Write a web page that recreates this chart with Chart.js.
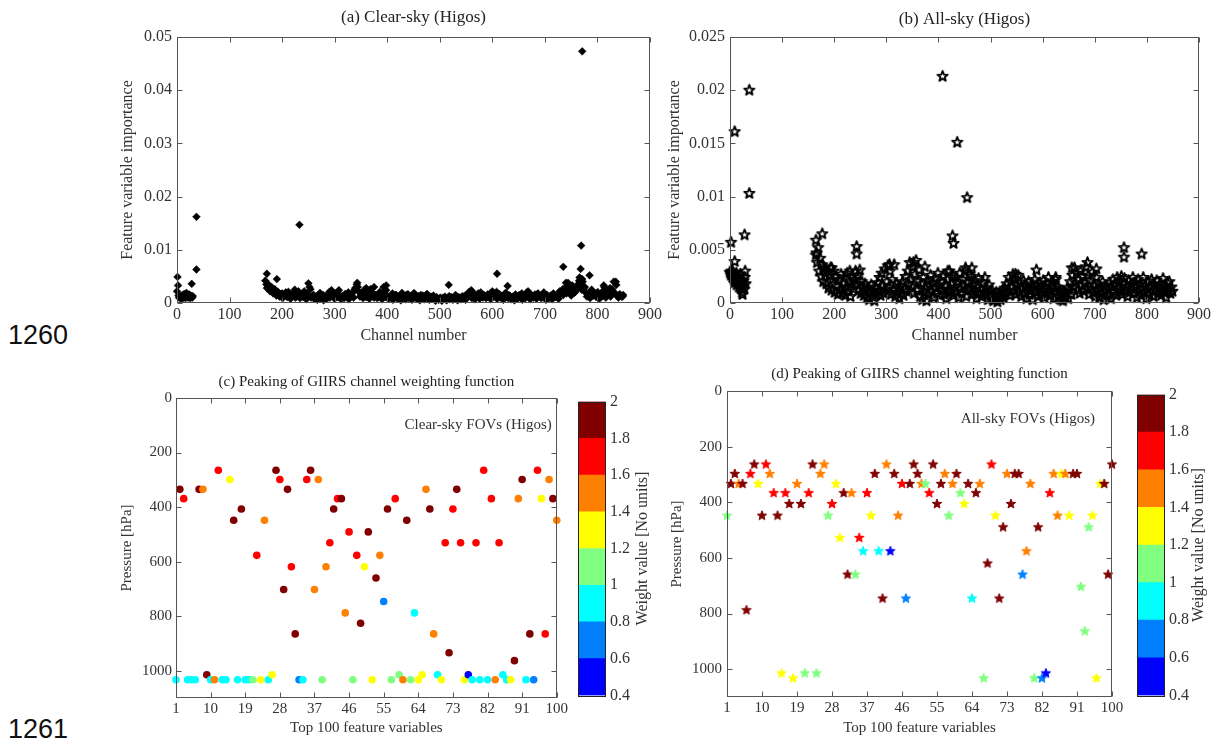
<!DOCTYPE html>
<html>
<head>
<meta charset="utf-8">
<script src="https://cdn.jsdelivr.net/npm/chart.js@4.4.0/dist/chart.umd.min.js"></script>
<style>
  body { margin: 0; background: #fff; width: 1216px; height: 740px; position: relative; overflow: hidden; }
  .box { position: absolute; }
  .fig { position: absolute; font-family: "Liberation Sans", Arial, sans-serif; font-size: 27px; color: #111; }
</style>
</head>
<body>
<div class="fig" style="left:8px;top:320px">1260</div>
<div class="fig" style="left:8px;top:714px">1261</div>
<div class="box" style="left:100px;top:0px"><canvas id="chartA" width="580" height="345"></canvas></div>
<div class="box" style="left:650px;top:0px"><canvas id="chartB" width="566" height="345"></canvas></div>
<div class="box" style="left:100px;top:360px"><canvas id="chartC" width="470" height="380"></canvas></div>
<div class="box" style="left:578px;top:388px"><canvas id="barC" width="100" height="321"></canvas></div>
<div class="box" style="left:650px;top:360px"><canvas id="chartD" width="480" height="380"></canvas></div>
<div class="box" style="left:1137px;top:381px"><canvas id="barD" width="79" height="328"></canvas></div>
<script>
// ---- (a) clear-sky importance, values in units of 1e-4 ----
const channelTicks = [0, 100, 200, 300, 400, 500, 600, 700, 800, 900];
const clearTicks = [0, 0.01, 0.02, 0.03, 0.04, 0.05];
const clearTickLabels = ['0', '0.01', '0.02', '0.03', '0.04', '0.05'];
// channels 0..30, one per channel
const clearEarly = [22, 49, 33, 14, 10, 12, 9, 11, 14, 8, 12, 15, 10, 13, 17, 11, 9, 14, 19, 12, 15, 10, 13, 16, 11, 9, 14, 12, 36, 10, 13];
// channels 168..849, every 3rd channel
const clearDense = [
  42, 28, 35, 22, 30, 18, 26, 14, 21, 12,
  17, 9, 14, 20, 11, 16, 8, 13, 19, 10,
  12, 22, 9, 15, 11, 18, 7, 13, 30, 10,
  14, 8, 12, 6, 16, 9, 11, 5, 13, 8,
  15, 10, 24, 12, 8, 17, 11, 14, 7, 12,
  9, 15, 11, 7, 13, 18, 10, 28, 35, 22,
  12, 16, 9, 25, 11, 14, 8, 21, 13, 10,
  15, 9, 12, 18, 7, 30, 11, 14, 8, 10,
  13, 6, 11, 15, 8, 12, 5, 14, 10, 7,
  16, 9, 12, 6, 18, 11, 8, 13, 5, 10,
  14, 7, 15, 9, 6, 12, 8, 11, 4, 9,
  6, 10, 4, 8, 12, 5, 9, 7, 11, 6,
  8, 12, 5, 10, 7, 13, 9, 6, 11, 20,
  22, 9, 14, 7, 12, 18, 8, 15, 10, 13,
  9, 16, 11, 7, 22, 12, 14, 8, 17, 10,
  13, 6, 18, 11, 9, 14, 7, 12, 5, 10,
  8, 15, 11, 6, 13, 9, 20, 12, 7, 14,
  10, 16, 8, 18, 12, 9, 15, 11, 6, 13,
  9, 14, 7, 16, 11, 13, 8, 17, 20, 15,
  25, 18, 38, 22, 14, 28, 19, 24, 30, 42,
  35, 45, 28, 20, 12, 16, 9, 25, 14, 18,
  11, 20, 8, 15, 13, 30, 10, 22, 16, 12,
  26, 40, 18, 14, 10, 16, 12, 15
];
// channels 170..848, every 6th channel (upper part of the band)
const clearUpper = [
  35, 30, 26, 22, 19, 18,
  16, 21, 14, 25, 18, 13, 22, 17, 26, 15,
  12, 19, 15, 10, 21, 14, 18, 24, 13, 17,
  20, 15, 25, 30, 19, 22, 14, 26, 17, 13,
  21, 16, 24, 12, 18, 15, 11, 19, 14, 16,
  13, 18, 10, 15, 12, 17, 9, 14, 11, 8,
  10, 7, 13, 9, 15, 11, 8, 14, 12, 24,
  17, 13, 20, 15, 11, 18, 14, 21, 16, 12,
  19, 14, 10, 16, 13, 18, 11, 22, 15, 12,
  17, 13, 20, 15, 12, 18, 14, 22, 26, 30,
  27, 33, 21, 36, 25, 30, 18, 22, 16, 20,
  14, 24, 18, 28, 20, 34, 16, 12
];
const clearOutlierCh = [37, 37, 171, 190, 233, 250, 343, 360, 375, 398, 517, 609, 629, 735, 740, 766, 768, 769, 771, 772, 785, 812, 835];
const clearOutlierVal = [162, 63, 55, 45, 147, 37, 38, 28, 30, 33, 34, 55, 32, 68, 38, 48, 64, 108, 473, 40, 52, 33, 40];

// ---- (b) all-sky importance, values in units of 1e-4 ----
const allTicks = [0, 0.005, 0.01, 0.015, 0.02, 0.025];
const allTickLabels = ['0', '0.005', '0.01', '0.015', '0.02', '0.025'];
// channels 0..30
const allEarly = [29, 28, 26, 30, 27, 24, 29, 22, 25, 19, 26, 21, 28, 17, 23, 20, 25, 15, 22, 18, 27, 14, 19, 10, 8, 16, 21, 13, 24, 30, 18];
// channels 165..849, every 2nd channel
const allDense = [
  45, 38, 52, 30, 42, 25, 36, 20, 32, 28,
  18, 30, 14, 26, 33, 12, 22, 30, 10, 25,
  16, 8, 21, 13, 27, 9, 18, 24, 7, 15,
  28, 11, 20, 6, 17, 25, 13, 22, 30, 18,
  26, 12, 31, 9, 20, 15, 7, 18, 11, 5,
  14, 3, 10, 17, 6, 12, 2, 15, 8, 19,
  11, 24, 7, 28, 16, 9, 32, 13, 20, 35,
  15, 30, 8, 22, 12, 36, 6, 18, 10, 14,
  4, 16, 9, 20, 7, 13, 25, 11, 30, 18,
  38, 22, 15, 34, 9, 27, 40, 12, 20, 31,
  6, 18, 3, 24, 10, 14, 2, 21, 8, 16,
  26, 11, 19, 5, 23, 14, 9, 28, 17, 7,
  20, 12, 25, 8, 16, 4, 22, 13, 30, 10,
  18, 26, 7, 15, 24, 11, 20, 5, 28, 13,
  9, 22, 16, 30, 6, 19, 12, 27, 14, 25,
  8, 17, 21, 11, 4, 15, 23, 9, 13, 6,
  19, 10, 24, 7, 14, 3, 17, 11, 6, 12,
  2, 8, 4, 10, 1, 6, 9, 3, 7, 12,
  5, 14, 9, 18, 11, 24, 7, 20, 15, 27,
  12, 22, 8, 17, 26, 10, 19, 6, 14, 21,
  9, 16, 4, 13, 20, 8, 11, 18, 3, 15,
  22, 10, 17, 6, 14, 19, 8, 12, 21, 5,
  13, 18, 9, 24, 11, 7, 16, 20, 4, 14,
  22, 10, 15, 6, 12, 3, 8, 2, 11, 5,
  9, 14, 4, 12, 20, 8, 26, 15, 33, 19,
  28, 12, 22, 9, 30, 17, 25, 11, 19, 34,
  14, 26, 8, 21, 13, 29, 10, 17, 6, 24,
  12, 18, 5, 14, 9, 20, 3, 11, 16, 7,
  13, 8, 19, 4, 15, 22, 10, 17, 7, 24,
  14, 20, 11, 25, 8, 18, 23, 12, 16, 6,
  21, 10, 17, 13, 24, 9, 15, 19, 5, 22,
  11, 18, 7, 14, 24, 10, 16, 4, 13, 20,
  8, 15, 22, 11, 6, 17, 12, 21, 9, 14,
  18, 7, 13, 23, 10, 16, 5, 19, 12, 20,
  9, 15, 11
];
const allOutlierCh = [2, 9, 9, 28, 37, 37, 165, 166, 177, 180, 195, 230, 243, 243, 306, 352, 374, 408, 418, 427, 429, 436, 452, 455, 464, 548, 588, 625, 656, 686, 703, 756, 756, 790];
const allOutlierVal = [57, 161, 39, 64, 200, 103, 59, 47, 65, 34, 33, 30, 53, 46, 36, 38, 34, 213, 30, 63, 56, 151, 33, 99, 33, 27, 31, 24, 33, 38, 32, 52, 43, 46];

// ---- (c), (d) peaking pressure of top 100 features ----
const featureTicks = [1, 10, 19, 28, 37, 46, 55, 64, 73, 82, 91, 100];
const pressureTicks = [0, 200, 400, 600, 800, 1000];
const clearPressure = [
  1033, 335, 369, 1033, 1033, 1033, 335, 335, 1015, 1033,
  1033, 265, 1033, 1033, 299, 448, 1033, 407, 1033, 1033,
  1033, 577, 1033, 448, 1033, 1015, 265, 299, 702, 335,
  619, 865, 1033, 1033, 299, 265, 702, 299, 1033, 619,
  531, 407, 369, 369, 788, 491, 1033, 577, 826, 619,
  491, 1033, 660, 577, 746, 407, 1033, 369, 1015, 1033,
  448, 1033, 788, 1033, 1015, 335, 407, 865, 1015, 1033,
  531, 934, 407, 335, 531, 1033, 1015, 1033, 531, 1033,
  265, 1033, 369, 1033, 531, 1015, 1033, 1033, 963, 369,
  299, 1033, 865, 1033, 265, 369, 865, 299, 369, 448
];
const clearWeight = [
  0.9, 1.9, 1.7, 0.9, 0.9, 0.9, 1.9, 1.5, 1.9, 0.9,
  1.5, 1.7, 0.9, 0.9, 1.3, 1.9, 0.9, 1.9, 0.9, 0.9,
  1.1, 1.7, 1.3, 1.5, 0.9, 1.3, 1.9, 1.7, 1.9, 1.9,
  1.7, 1.9, 0.7, 0.9, 1.7, 1.9, 1.5, 1.5, 1.1, 1.5,
  1.7, 1.9, 1.7, 1.9, 1.5, 1.7, 1.1, 1.7, 1.9, 1.3,
  1.9, 1.3, 1.9, 1.5, 0.7, 1.9, 1.1, 1.7, 1.1, 1.5,
  1.9, 1.1, 0.9, 1.3, 1.3, 1.5, 1.9, 1.5, 0.9, 1.3,
  1.7, 1.9, 1.7, 1.9, 1.7, 1.3, 0.5, 0.9, 1.7, 0.9,
  1.7, 0.9, 1.7, 1.5, 1.7, 0.9, 0.9, 1.3, 1.9, 1.5,
  1.9, 0.9, 1.9, 0.7, 1.7, 1.3, 1.7, 1.5, 1.9, 1.5
];
const allPressure = [
  448, 334, 298, 334, 334, 788, 298, 264, 334, 448,
  264, 298, 367, 448, 1015, 367, 406, 1033, 334, 406,
  1015, 367, 264, 1015, 298, 264, 448, 406, 334, 528,
  367, 660, 367, 660, 528, 576, 367, 448, 298, 576,
  746, 264, 576, 298, 448, 334, 746, 334, 264, 298,
  334, 334, 367, 264, 406, 334, 298, 448, 334, 298,
  367, 406, 334, 746, 367, 334, 1033, 620, 264, 448,
  746, 490, 298, 406, 298, 298, 660, 576, 334, 1033,
  490, 1033, 1015, 367, 298, 448, 298, 298, 448, 298,
  298, 704, 864, 490, 448, 1033, 334, 334, 660, 264
];
const allWeight = [
  1.1, 1.9, 1.9, 1.5, 1.9, 1.9, 1.7, 1.9, 1.3, 1.9,
  1.7, 1.5, 1.7, 1.9, 1.3, 1.7, 1.9, 1.3, 1.5, 1.9,
  1.1, 1.7, 1.9, 1.1, 1.5, 1.5, 1.1, 1.7, 1.3, 1.3,
  1.9, 1.9, 1.5, 1.1, 1.7, 0.9, 1.7, 1.3, 1.9, 0.9,
  1.9, 1.5, 0.5, 1.9, 1.5, 1.7, 0.7, 1.9, 1.9, 1.9,
  1.5, 1.1, 1.7, 1.9, 1.9, 1.9, 1.5, 1.1, 1.5, 1.9,
  1.1, 1.3, 1.9, 0.9, 1.9, 1.5, 1.1, 1.9, 1.7, 1.3,
  1.9, 1.9, 1.5, 1.9, 1.9, 1.9, 0.7, 1.5, 1.5, 1.1,
  1.9, 0.7, 0.5, 1.7, 1.5, 1.5, 1.3, 1.5, 1.3, 1.9,
  1.9, 1.1, 1.1, 1.1, 1.3, 1.3, 1.3, 1.9, 1.9, 1.9
];

// ---- colour bar ----
const weightBins = [0.4, 0.6, 0.8, 1.0, 1.2, 1.4, 1.6, 1.8, 2.0];
const weightTickLabels = ['0.4', '0.6', '0.8', '1', '1.2', '1.4', '1.6', '1.8', '2'];
const jetColors = ['#0000ff', '#0080ff', '#00ffff', '#80ff80', '#ffff00', '#ff8000', '#ff0000', '#800000'];

const SERIF = '"Liberation Serif", "Times New Roman", serif';
Chart.defaults.font.family = SERIF;
Chart.defaults.color = '#333';
Chart.defaults.animation = false;
Chart.defaults.devicePixelRatio = 1;

function weightColor(w) {
  for (let k = 0; k < jetColors.length; k++) {
    if (w < weightBins[k + 1]) return jetColors[k];
  }
  return jetColors[jetColors.length - 1];
}

function starCanvas(fill, stroke, R, lw) {
  const c = document.createElement('canvas');
  const s = Math.ceil(2 * R + 4);
  c.width = c.height = s;
  const g = c.getContext('2d');
  g.beginPath();
  for (let k = 0; k < 10; k++) {
    const r = k % 2 ? R * 0.42 : R;
    const a = -Math.PI / 2 + k * Math.PI / 5;
    const px = s / 2 + r * Math.cos(a), py = s / 2 + r * Math.sin(a);
    if (k) g.lineTo(px, py); else g.moveTo(px, py);
  }
  g.closePath();
  if (fill) { g.fillStyle = fill; g.fill(); }
  if (stroke) { g.strokeStyle = stroke; g.lineWidth = lw; g.lineJoin = 'round'; g.stroke(); }
  return c;
}

// box, inward ticks on all four sides, panel title over the plot area, optional note
const frameTicks = {
  id: 'frameTicks',
  afterDraw(chart, args, opts) {
    const { ctx, chartArea: a, scales: { x, y } } = chart;
    const L = 5;
    ctx.save();
    ctx.strokeStyle = '#555';
    ctx.lineWidth = 1;
    const l = Math.round(a.left) + 0.5, r = Math.round(a.right) - 0.5;
    const t = Math.round(a.top) + 0.5, b = Math.round(a.bottom) - 0.5;
    ctx.strokeRect(l, t, r - l, b - t);
    ctx.beginPath();
    x.ticks.forEach(tk => {
      const px = Math.round(x.getPixelForValue(tk.value)) + 0.5;
      ctx.moveTo(px, b); ctx.lineTo(px, b - L);
      ctx.moveTo(px, t); ctx.lineTo(px, t + L);
    });
    y.ticks.forEach(tk => {
      const py = Math.round(y.getPixelForValue(tk.value)) + 0.5;
      ctx.moveTo(l, py); ctx.lineTo(l + L, py);
      ctx.moveTo(r, py); ctx.lineTo(r - L, py);
    });
    ctx.stroke();
    ctx.textBaseline = 'middle';
    ctx.fillStyle = '#222';
    ctx.textAlign = 'center';
    ctx.font = opts.titleFont + 'px ' + SERIF;
    ctx.fillText(opts.title, (a.left + a.right) / 2, opts.titleY);
    if (opts.note) {
      ctx.font = '15px ' + SERIF;
      ctx.fillStyle = '#333';
      ctx.textAlign = 'right';
      ctx.fillText(opts.note, a.right - opts.dx, a.top + opts.dy);
    }
    ctx.restore();
  }
};

function xyScales(o) {
  return {
    x: {
      type: 'linear', min: o.xMin, max: o.xMax,
      grid: { display: false, drawTicks: false }, border: { display: false },
      afterBuildTicks: s => { s.ticks = o.xTicks.map(v => ({ value: v })); },
      afterFit: s => { s.height = o.xH; },
      ticks: { font: { size: o.tickSize }, padding: o.xPad, maxRotation: 0, autoSkip: false, callback: v => String(v) },
      title: { display: true, text: o.xTitle, font: { size: o.titleSize }, padding: { top: 0, bottom: o.xTitlePad } }
    },
    y: {
      type: 'linear', min: o.yMin, max: o.yMax, reverse: !!o.reverse,
      grid: { display: false, drawTicks: false }, border: { display: false },
      afterBuildTicks: s => { s.ticks = o.yTicks.map(v => ({ value: v })); },
      afterFit: s => { s.width = o.yW; },
      ticks: { font: { size: o.tickSize }, padding: o.yPad, autoSkip: false, callback: (v, i) => o.yLabels[i] },
      title: { display: true, text: o.yTitle, font: { size: o.titleSize }, padding: { top: o.yTitlePad, bottom: 0 } }
    }
  };
}

function baseOptions(o) {
  return {
    responsive: false,
    events: [],
    layout: { padding: { left: 0, top: o.padT, bottom: 0, right: o.padR } },
    plugins: {
      legend: { display: false },
      tooltip: { enabled: false },
      frameTicks: { title: o.title, titleFont: o.titleFont, titleY: o.titleY, note: o.note, dx: o.noteDx, dy: o.noteDy }
    },
    scales: xyScales(o)
  };
}

// ----- (a) -----
const aPoints = [];
clearEarly.forEach((v, i) => aPoints.push({ x: i, y: v / 1e4 }));
clearDense.forEach((v, i) => aPoints.push({ x: 168 + 3 * i, y: v / 1e4 }));
clearUpper.forEach((v, i) => aPoints.push({ x: 170 + 6 * i, y: v / 1e4 }));
clearOutlierCh.forEach((c, i) => aPoints.push({ x: c, y: clearOutlierVal[i] / 1e4 }));
new Chart(document.getElementById('chartA'), {
  type: 'scatter',
  data: { datasets: [{ data: aPoints, pointStyle: 'rectRot', pointRadius: 3.9, backgroundColor: '#000', borderColor: '#000', borderWidth: 0.5, clip: false }] },
  options: baseOptions({
    title: '(a) Clear-sky (Higos)', titleFont: 17, titleY: 18, padT: 37, padR: 30,
    xMin: 0, xMax: 900, xTicks: channelTicks, xH: 42, xPad: 2, xTitle: 'Channel number', xTitlePad: 0,
    yMin: 0, yMax: 0.05, yTicks: clearTicks, yLabels: clearTickLabels, yW: 77, yPad: 5,
    yTitle: 'Feature variable importance', yTitlePad: 18, titleSize: 16, tickSize: 16
  }),
  plugins: [frameTicks]
});

// ----- (b) -----
const openStar = starCanvas(null, '#000', 5.4, 1.9);
const bPoints = [];
allEarly.forEach((v, i) => bPoints.push({ x: i, y: v / 1e4 }));
allDense.forEach((v, i) => bPoints.push({ x: 165 + 2 * i, y: v / 1e4 }));
allOutlierCh.forEach((c, i) => bPoints.push({ x: c, y: allOutlierVal[i] / 1e4 }));
new Chart(document.getElementById('chartB'), {
  type: 'scatter',
  data: { datasets: [{ data: bPoints, pointStyle: openStar, pointRadius: 5, clip: false }] },
  options: baseOptions({
    title: '(b) All-sky (Higos)', titleFont: 17, titleY: 20, padT: 37, padR: 17,
    xMin: 0, xMax: 900, xTicks: channelTicks, xH: 42, xPad: 2, xTitle: 'Channel number', xTitlePad: 0,
    yMin: 0, yMax: 0.025, yTicks: allTicks, yLabels: allTickLabels, yW: 80, yPad: 5,
    yTitle: 'Feature variable importance', yTitlePad: 15, titleSize: 16, tickSize: 16
  }),
  plugins: [frameTicks]
});

// ----- (c) -----
const pressureLabels = pressureTicks.map(String);
new Chart(document.getElementById('chartC'), {
  type: 'scatter',
  data: { datasets: [{
    data: clearPressure.map((p, i) => ({ x: i + 1, y: p })),
    pointStyle: 'circle', pointRadius: 3.8, borderWidth: 0,
    backgroundColor: clearWeight.map(weightColor), clip: false
  }] },
  options: baseOptions({
    title: '(c) Peaking of GIIRS channel weighting function', titleFont: 15, titleY: 22, padT: 38, padR: 13,
    note: 'Clear-sky FOVs (Higos)', noteDx: 5, noteDy: 27,
    xMin: 1, xMax: 100, xTicks: featureTicks, xH: 42, xPad: 2, xTitle: 'Top 100 feature variables', xTitlePad: 3,
    yMin: 0, yMax: 1100, reverse: true, yTicks: pressureTicks, yLabels: pressureLabels, yW: 76, yPad: 4,
    yTitle: 'Pressure [hPa]', yTitlePad: 18, titleSize: 15, tickSize: 15
  }),
  plugins: [frameTicks]
});

// ----- (d) -----
const filledStars = {};
jetColors.forEach(c => { filledStars[c] = starCanvas(c, c, 5, 1); });
new Chart(document.getElementById('chartD'), {
  type: 'scatter',
  data: { datasets: [{
    data: allPressure.map((p, i) => ({ x: i + 1, y: p })),
    pointStyle: allWeight.map(w => filledStars[weightColor(w)]), pointRadius: 5, clip: false
  }] },
  options: baseOptions({
    title: '(d) Peaking of GIIRS channel weighting function', titleFont: 15, titleY: 14, padT: 31, padR: 18,
    note: 'All-sky FOVs (Higos)', noteDx: 17, noteDy: 28,
    xMin: 1, xMax: 100, xTicks: featureTicks, xH: 43, xPad: 2, xTitle: 'Top 100 feature variables', xTitlePad: 3,
    yMin: 0, yMax: 1100, reverse: true, yTicks: pressureTicks, yLabels: pressureLabels, yW: 77, yPad: 5,
    yTitle: 'Pressure [hPa]', yTitlePad: 18, titleSize: 15, tickSize: 15
  }),
  plugins: [frameTicks]
});

// ----- colour bars -----
const cbarDeco = {
  id: 'cbarDeco',
  afterDraw(chart, args, opts) {
    const { ctx, chartArea: a } = chart;
    ctx.save();
    ctx.strokeStyle = '#222';
    ctx.lineWidth = 1;
    ctx.strokeRect(Math.round(a.left) + 0.5, Math.round(a.top) + 0.5, Math.round(a.right - a.left) - 1, Math.round(a.bottom - a.top));
    ctx.translate(opts.x, (a.top + a.bottom) / 2);
    ctx.rotate(-Math.PI / 2);
    ctx.font = '16px ' + SERIF;
    ctx.fillStyle = '#333';
    ctx.textAlign = 'center';
    ctx.textBaseline = 'middle';
    ctx.fillText('Weight value [No units]', 0, 0);
    ctx.restore();
  }
};

function colorBar(id, axisW, titleX) {
  new Chart(document.getElementById(id), {
    type: 'bar',
    data: {
      labels: [''],
      datasets: jetColors.map((c, k) => ({
        data: [[weightBins[k], weightBins[k + 1]]],
        backgroundColor: c, borderWidth: 0, barPercentage: 1, categoryPercentage: 1, grouped: false
      }))
    },
    options: {
      responsive: false,
      events: [],
      layout: { padding: { top: 10, bottom: 10, left: 0, right: 0 } },
      plugins: { legend: { display: false }, tooltip: { enabled: false }, cbarDeco: { x: titleX } },
      scales: {
        x: { display: false },
        y: {
          position: 'right', min: 0.4, max: 2,
          grid: { display: false, drawTicks: false }, border: { display: false },
          afterBuildTicks: s => { s.ticks = weightBins.map(v => ({ value: v })); },
          afterFit: s => { s.width = axisW; },
          ticks: { font: { size: 16 }, padding: 4, callback: (v, i) => weightTickLabels[i] }
        }
      }
    },
    plugins: [cbarDeco]
  });
}
colorBar('barC', 72, 65);
colorBar('barD', 51, 62);
</script>
</body>
</html>
